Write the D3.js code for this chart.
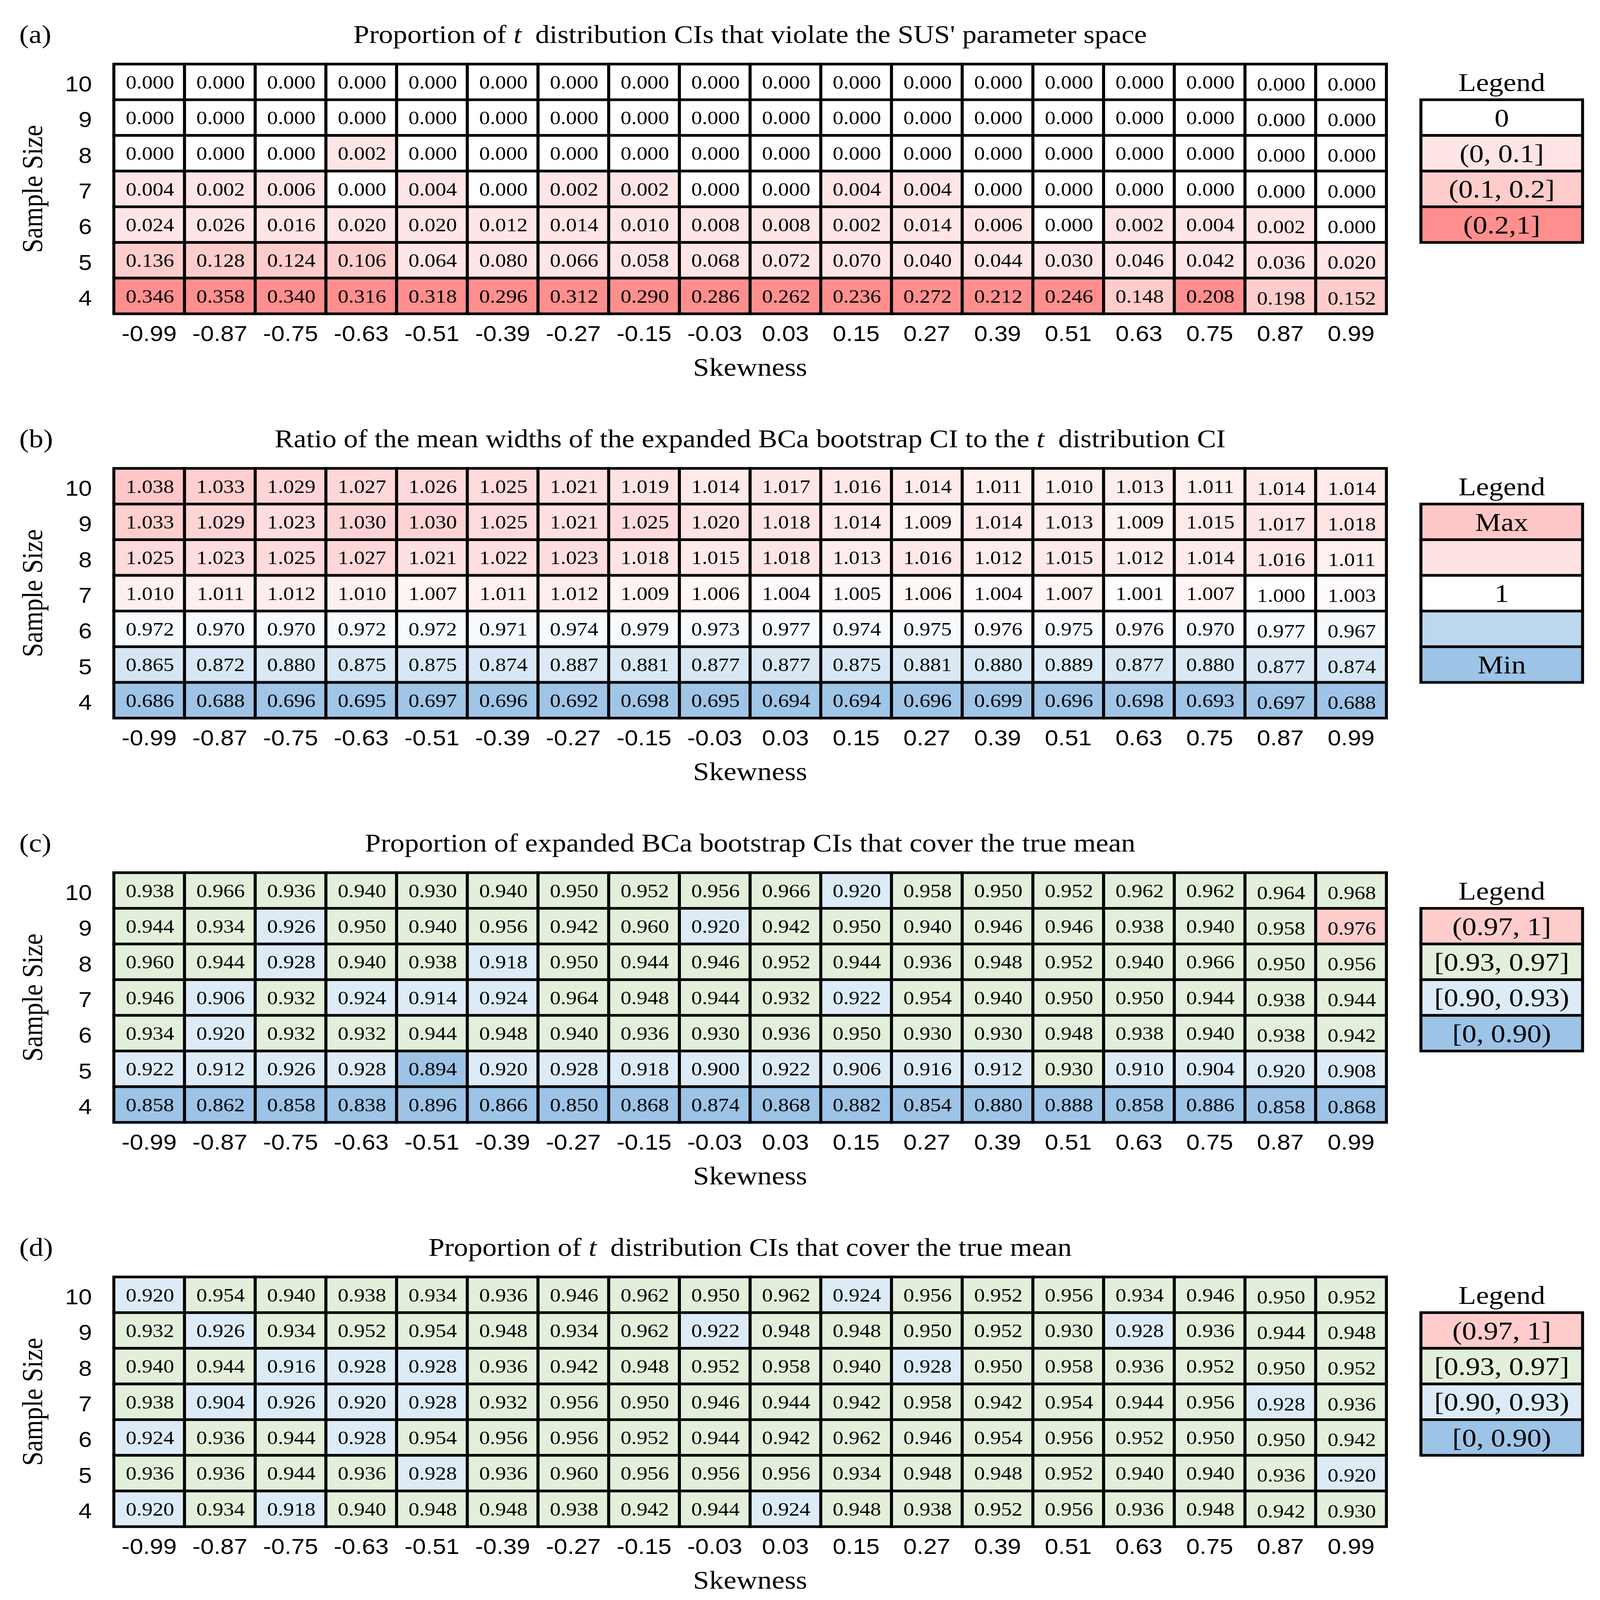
<!DOCTYPE html>
<html>
	<head>
		<meta charset="utf-8">
		<title>CI heatmaps</title>
		<script src="https://cdn.jsdelivr.net/npm/d3@7"></script>
		<style>
			html, body { margin: 0; padding: 0; background: #fff; overflow: hidden; }
			#viz svg { display: block; width: 100vw; height: 100vh; }
		</style>
	</head>
	<body>
		<div id='viz'></div>
		<script>
			var width = 4315,
				height = 4844;

			// axes
			var skewness = ['-0.99','-0.87','-0.75','-0.63','-0.51','-0.39','-0.27','-0.15','-0.03','0.03','0.15','0.27','0.39','0.51','0.63','0.75','0.87','0.99'];
			var sampleSizes = ['10','9','8','7','6','5','4'];

			// (a) proportion of t CIs violating the parameter space, rows n=10..4
			var violateT = [
				[0.000,0.000,0.000,0.000,0.000,0.000,0.000,0.000,0.000,0.000,0.000,0.000,0.000,0.000,0.000,0.000,0.000,0.000],
				[0.000,0.000,0.000,0.000,0.000,0.000,0.000,0.000,0.000,0.000,0.000,0.000,0.000,0.000,0.000,0.000,0.000,0.000],
				[0.000,0.000,0.000,0.002,0.000,0.000,0.000,0.000,0.000,0.000,0.000,0.000,0.000,0.000,0.000,0.000,0.000,0.000],
				[0.004,0.002,0.006,0.000,0.004,0.000,0.002,0.002,0.000,0.000,0.004,0.004,0.000,0.000,0.000,0.000,0.000,0.000],
				[0.024,0.026,0.016,0.020,0.020,0.012,0.014,0.010,0.008,0.008,0.002,0.014,0.006,0.000,0.002,0.004,0.002,0.000],
				[0.136,0.128,0.124,0.106,0.064,0.080,0.066,0.058,0.068,0.072,0.070,0.040,0.044,0.030,0.046,0.042,0.036,0.020],
				[0.346,0.358,0.340,0.316,0.318,0.296,0.312,0.290,0.286,0.262,0.236,0.272,0.212,0.246,0.148,0.208,0.198,0.152]
			];
			// (b) ratio of mean widths BCa / t
			var widthRatio = [
				[1.038,1.033,1.029,1.027,1.026,1.025,1.021,1.019,1.014,1.017,1.016,1.014,1.011,1.010,1.013,1.011,1.014,1.014],
				[1.033,1.029,1.023,1.030,1.030,1.025,1.021,1.025,1.020,1.018,1.014,1.009,1.014,1.013,1.009,1.015,1.017,1.018],
				[1.025,1.023,1.025,1.027,1.021,1.022,1.023,1.018,1.015,1.018,1.013,1.016,1.012,1.015,1.012,1.014,1.016,1.011],
				[1.010,1.011,1.012,1.010,1.007,1.011,1.012,1.009,1.006,1.004,1.005,1.006,1.004,1.007,1.001,1.007,1.000,1.003],
				[0.972,0.970,0.970,0.972,0.972,0.971,0.974,0.979,0.973,0.977,0.974,0.975,0.976,0.975,0.976,0.970,0.977,0.967],
				[0.865,0.872,0.880,0.875,0.875,0.874,0.887,0.881,0.877,0.877,0.875,0.881,0.880,0.889,0.877,0.880,0.877,0.874],
				[0.686,0.688,0.696,0.695,0.697,0.696,0.692,0.698,0.695,0.694,0.694,0.696,0.699,0.696,0.698,0.693,0.697,0.688]
			];
			// (c) coverage of expanded BCa bootstrap CIs
			var coverBCa = [
				[0.938,0.966,0.936,0.940,0.930,0.940,0.950,0.952,0.956,0.966,0.920,0.958,0.950,0.952,0.962,0.962,0.964,0.968],
				[0.944,0.934,0.926,0.950,0.940,0.956,0.942,0.960,0.920,0.942,0.950,0.940,0.946,0.946,0.938,0.940,0.958,0.976],
				[0.960,0.944,0.928,0.940,0.938,0.918,0.950,0.944,0.946,0.952,0.944,0.936,0.948,0.952,0.940,0.966,0.950,0.956],
				[0.946,0.906,0.932,0.924,0.914,0.924,0.964,0.948,0.944,0.932,0.922,0.954,0.940,0.950,0.950,0.944,0.938,0.944],
				[0.934,0.920,0.932,0.932,0.944,0.948,0.940,0.936,0.930,0.936,0.950,0.930,0.930,0.948,0.938,0.940,0.938,0.942],
				[0.922,0.912,0.926,0.928,0.894,0.920,0.928,0.918,0.900,0.922,0.906,0.916,0.912,0.930,0.910,0.904,0.920,0.908],
				[0.858,0.862,0.858,0.838,0.896,0.866,0.850,0.868,0.874,0.868,0.882,0.854,0.880,0.888,0.858,0.886,0.858,0.868]
			];
			// (d) coverage of t distribution CIs
			var coverT = [
				[0.920,0.954,0.940,0.938,0.934,0.936,0.946,0.962,0.950,0.962,0.924,0.956,0.952,0.956,0.934,0.946,0.950,0.952],
				[0.932,0.926,0.934,0.952,0.954,0.948,0.934,0.962,0.922,0.948,0.948,0.950,0.952,0.930,0.928,0.936,0.944,0.948],
				[0.940,0.944,0.916,0.928,0.928,0.936,0.942,0.948,0.952,0.958,0.940,0.928,0.950,0.958,0.936,0.952,0.950,0.952],
				[0.938,0.904,0.926,0.920,0.928,0.932,0.956,0.950,0.946,0.944,0.942,0.958,0.942,0.954,0.944,0.956,0.928,0.936],
				[0.924,0.936,0.944,0.928,0.954,0.956,0.956,0.952,0.944,0.942,0.962,0.946,0.954,0.956,0.952,0.950,0.950,0.942],
				[0.936,0.936,0.944,0.936,0.928,0.936,0.960,0.956,0.956,0.956,0.934,0.948,0.948,0.952,0.940,0.940,0.936,0.920],
				[0.920,0.934,0.918,0.940,0.948,0.948,0.938,0.942,0.944,0.924,0.948,0.938,0.952,0.956,0.936,0.948,0.942,0.930]
			];

			// legends
			var legendA = ['0','(0, 0.1]','(0.1, 0.2]','(0.2,1]'];
			var legendAColors = ['#FFFFFF','#FFE5E5','#FFCCCC','#FF8F8F'];
			var legendB = ['Max','','1','','Min'];
			var legendBColors = ['#FFC7C7','#FFE2E2','#FFFFFF','#BDD7EE','#9DC3E6'];
			var legendCover = ['(0.97, 1]','[0.93, 0.97]','[0.90, 0.93)','[0, 0.90)'];
			var legendCoverColors = ['#FFCCCC','#E2EFDA','#DDEBF7','#9DC3E6'];

			var serif = "'Liberation Serif','Times New Roman',serif";
			var sans = "'Liberation Sans',Arial,sans-serif";

			// colour rules
			var colorA = function(v){
				if(v <= 0) return legendAColors[0];
				if(v <= 0.1) return legendAColors[1];
				if(v <= 0.2) return legendAColors[2];
				return legendAColors[3];
			};
			var allB = widthRatio.flat();
			var colorB = d3.scaleLinear()
				.domain([d3.min(allB), 1, d3.max(allB)])
				.range(['#9DC3E6','#FFFFFF','#FFC7C7']);
			var colorCover = d3.scaleThreshold()
				.domain([0.90, 0.93, 0.9700001])
				.range(legendCoverColors.slice().reverse());

			var panels = [
				{tag:'(a)', title:['Proportion of ','t',' distribution CIs that violate the SUS\' parameter space'], data:violateT, color:colorA, legend:legendA, legendColors:legendAColors},
				{tag:'(b)', title:['Ratio of the mean widths of the expanded BCa bootstrap CI to the ','t',' distribution CI'], data:widthRatio, color:colorB, legend:legendB, legendColors:legendBColors},
				{tag:'(c)', title:['Proportion of expanded BCa bootstrap CIs that cover the true mean'], data:coverBCa, color:colorCover, legend:legendCover, legendColors:legendCoverColors},
				{tag:'(d)', title:['Proportion of ','t',' distribution CIs that cover the true mean'], data:coverT, color:colorCover, legend:legendCover, legendColors:legendCoverColors}
			];

			var gridLeft = 307, gridRight = 3739,
				firstTop = 194, panelStep = 1224, rowH = 108,
				legendX = 3832, legendW = 436;

			var x = d3.scaleBand().domain(skewness).range([gridLeft, gridRight]);

			// the svg scales to whatever window it is photographed in
			var svg = d3.select('#viz')
				.append('svg')
				.attr('viewBox', [0, 0, width, height])
				.attr('preserveAspectRatio', 'none')
				.style('background', '#fff');

			panels.forEach(function(p, pi){
				var top = firstTop + pi*panelStep;
				var bottom = top + rowH*sampleSizes.length;
				var y = d3.scaleBand().domain(sampleSizes).range([top, bottom]);
				var g = svg.append('g');

				// tag + title
				g.append('text')
					.attr('x', 52).attr('y', top - 64)
					.attr('font-family', serif).attr('font-size', 78)
					.text(p.tag);
				var title = g.append('text')
					.attr('x', (gridLeft + gridRight)/2).attr('y', top - 64)
					.attr('text-anchor', 'middle')
					.attr('font-family', serif).attr('font-size', 77);
				p.title.forEach(function(s, i){
					var ts = title.append('tspan').text(s);
					if(s === 't') ts.attr('font-style', 'italic');
					if(i === 2) ts.attr('dx', 18);
				});

				// cells
				var cells = [];
				p.data.forEach(function(row, ri){
					row.forEach(function(v, ci){
						cells.push({r:sampleSizes[ri], c:skewness[ci], ci:ci, v:v});
					});
				});
				g.selectAll('rect.cell')
					.data(cells)
					.join('rect')
					.attr('class', 'cell')
					.attr('x', d=>x(d.c))
					.attr('y', d=>y(d.r))
					.attr('width', x.bandwidth())
					.attr('height', y.bandwidth())
					.attr('fill', d=>p.color(d.v))
					.attr('stroke', '#000')
					.attr('stroke-width', 8);
				g.selectAll('text.val')
					.data(cells)
					.join('text')
					.attr('class', 'val')
					.attr('x', d=>x(d.c) + x.bandwidth()/2 + 2)
					.attr('y', d=>y(d.r) + y.bandwidth()/2 + 20 + (d.ci >= 16 ? 6 : 0))
					.attr('text-anchor', 'middle')
					.attr('font-family', serif)
					.attr('font-size', 58)
					.text(d=>d.v.toFixed(3));

				// axes
				var ax = g.append('g')
					.attr('transform', `translate(0,${bottom})`)
					.call(d3.axisBottom(x).tickSize(0).tickPadding(36));
				ax.select('.domain').remove();
				ax.selectAll('text').attr('font-family', sans).attr('font-size', 65);
				var ay = g.append('g')
					.attr('transform', `translate(${gridLeft},0)`)
					.call(d3.axisLeft(y).tickSize(0).tickPadding(59));
				ay.select('.domain').remove();
				ay.selectAll('text').attr('font-family', sans).attr('font-size', 65)
					.attr('transform', 'translate(0,8)');

				g.append('text')
					.attr('x', (gridLeft + gridRight)/2).attr('y', bottom + 188)
					.attr('text-anchor', 'middle')
					.attr('font-family', serif).attr('font-size', 78)
					.text('Skewness');
				g.append('text')
					.attr('transform', `translate(114,${(top + bottom)/2}) rotate(-90)`)
					.attr('text-anchor', 'middle')
					.attr('font-family', serif).attr('font-size', 78)
					.text('Sample Size');

				// legend
				var ly = d3.scaleBand().domain(d3.range(p.legend.length))
					.range([top + rowH, top + rowH*(p.legend.length + 1)]);
				g.append('text')
					.attr('x', legendX + legendW/2).attr('y', top + rowH - 27)
					.attr('text-anchor', 'middle')
					.attr('font-family', serif).attr('font-size', 78)
					.text('Legend');
				g.selectAll('rect.leg')
					.data(p.legend)
					.join('rect')
					.attr('class', 'leg')
					.attr('x', legendX)
					.attr('y', (d,i)=>ly(i))
					.attr('width', legendW)
					.attr('height', ly.bandwidth())
					.attr('fill', (d,i)=>p.legendColors[i])
					.attr('stroke', '#000')
					.attr('stroke-width', 8);
				g.selectAll('text.leg')
					.data(p.legend)
					.join('text')
					.attr('class', 'leg')
					.attr('x', legendX + legendW/2)
					.attr('y', (d,i)=>ly(i) + ly.bandwidth()/2 + 27)
					.attr('text-anchor', 'middle')
					.attr('font-family', serif).attr('font-size', 78)
					.text(d=>d);
			});
		</script>
	</body>
</html>
